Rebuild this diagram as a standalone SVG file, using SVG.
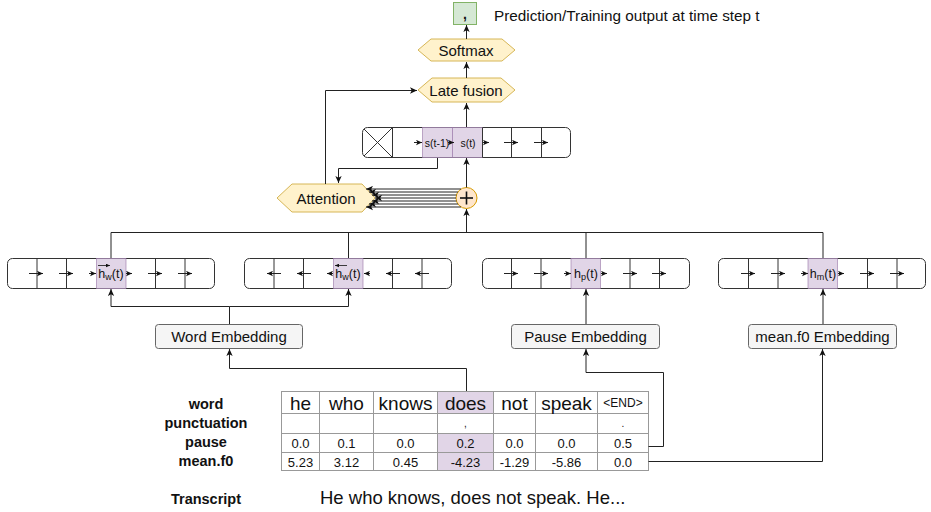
<svg xmlns="http://www.w3.org/2000/svg" width="931" height="512" viewBox="0 0 931 512">
  <defs>
    <marker id="ah" viewBox="0 0 10 10" refX="10" refY="5" markerWidth="7" markerHeight="7" markerUnits="userSpaceOnUse" orient="auto">
      <path d="M0,0.5 L10,5 L0,9.5 L2.5,5 z" fill="#111"/>
    </marker>
    <marker id="sh" viewBox="0 0 10 10" refX="10" refY="5" markerWidth="6" markerHeight="6" markerUnits="userSpaceOnUse" orient="auto">
      <path d="M0,0.5 L10,5 L0,9.5 L2.5,5 z" fill="#111"/>
    </marker>
    <marker id="vh" viewBox="0 0 10 10" refX="10" refY="5" markerWidth="4" markerHeight="4" markerUnits="userSpaceOnUse" orient="auto">
      <path d="M0,0.5 L10,5 L0,9.5 z" fill="#111"/>
    </marker>
  </defs>
  <style>
    text { font-family: "Liberation Sans", Arial, Helvetica, sans-serif; fill: #111; }
    .hex { fill: #fff2cc; stroke: #d6b656; stroke-width: 1; }
    .rnn { fill: #fff; stroke: #333; stroke-width: 1; }
    .sep { stroke: #333; stroke-width: 1; }
    .hl { fill: #e1d5e7; stroke: #9673a6; stroke-width: 0.6; }
    .emb { fill: #f5f5f5; stroke: #666; stroke-width: 1; }
    .conn { fill: none; stroke: #222; stroke-width: 1; }
    .arr { marker-end: url(#ah); }
    .cell-arr { fill: none; stroke: #222; stroke-width: 1; marker-end: url(#sh); }
    .lbl { font-size: 15px; text-anchor: middle; }
    .cl { font-size: 12.5px; text-anchor: middle; }
    .tb { fill: #fff; stroke: #999; stroke-width: 1; }
    .thl { fill: #e1d5e7; stroke: #999; stroke-width: 1; }
    .tw { font-size: 19px; text-anchor: middle; }
    .tn { font-size: 13px; text-anchor: middle; }
    .rl { font-size: 14.5px; font-weight: bold; text-anchor: middle; }
  </style>

  <!-- output token -->
  <g id="output">
    <rect x="453.5" y="2.5" width="23" height="22" fill="#d5e8d4" stroke="#82b366"/>
    <text x="465" y="19" font-size="14" text-anchor="middle" font-weight="bold">,</text>
    <text x="494" y="21" font-size="15.3">Prediction/Training output at time step t</text>
  </g>

  <g id="softmax">
    <polygon class="hex" points="418,50 431,39 502,39 515,50 502,61 431,61"/>
    <text class="lbl" x="466" y="55.5" font-size="15.5">Softmax</text>
  </g>

  <g id="late-fusion">
    <polygon class="hex" points="418,90 432,78 501,78 515,90 501,102 432,102"/>
    <text class="lbl" x="466" y="95.5" font-size="16">Late fusion</text>
  </g>

  <!-- decoder RNN -->
  <g id="decoder">
    <rect class="rnn" x="362.5" y="127.5" width="208" height="30" rx="5"/>
    <rect class="hl" x="422.5" y="127.5" width="30" height="30"/>
    <rect class="hl" x="452.5" y="127.5" width="30" height="30"/>
    <line class="sep" x1="392.5" y1="127.5" x2="392.5" y2="157.5"/>
    <line class="sep" x1="482.5" y1="127.5" x2="482.5" y2="157.5"/>
    <line class="sep" x1="511.5" y1="127.5" x2="511.5" y2="157.5"/>
    <line class="sep" x1="541.5" y1="127.5" x2="541.5" y2="157.5"/>
    <line class="sep" x1="364" y1="129" x2="392.5" y2="157.5"/>
    <line class="sep" x1="392.5" y1="127.5" x2="364" y2="156"/>
    <text x="437" y="146.5" font-size="10.5" text-anchor="middle">s(t-1)</text>
    <text x="468" y="146.5" font-size="10.5" text-anchor="middle">s(t)</text>
    <line class="cell-arr" x1="414" y1="142.5" x2="422" y2="142.5"/>
    <line class="cell-arr" x1="448" y1="142.5" x2="454" y2="142.5"/>
    <line class="cell-arr" x1="483" y1="142.5" x2="489" y2="142.5"/>
    <line class="cell-arr" x1="504" y1="142.5" x2="518" y2="142.5"/>
    <line class="cell-arr" x1="534" y1="142.5" x2="548" y2="142.5"/>
  </g>

  <g id="attention">
    <polygon class="hex" points="277,198 292,184 362,184 375,198 362,212 292,212"/>
    <text class="lbl" x="326" y="204" font-size="17">Attention</text>
  </g>

  <g id="concat">
    <circle cx="466.5" cy="198" r="10.5" fill="#ffe6cc" stroke="#d79b00"/>
    <line x1="460" y1="198" x2="473" y2="198" stroke="#111" stroke-width="1.6"/>
    <line x1="466.5" y1="191.5" x2="466.5" y2="204.5" stroke="#111" stroke-width="1.6"/>
  </g>

  <!-- encoder for words, forward direction -->
  <g id="enc-word-fwd">
    <rect class="rnn" x="7.5" y="258.5" width="207" height="30" rx="5"/>
    <rect class="hl" x="96.5" y="258.5" width="29.5" height="30"/>
    <line class="sep" x1="37" y1="258.5" x2="37" y2="288.5"/>
    <line class="sep" x1="66.5" y1="258.5" x2="66.5" y2="288.5"/>
    <line class="sep" x1="155.5" y1="258.5" x2="155.5" y2="288.5"/>
    <line class="sep" x1="185" y1="258.5" x2="185" y2="288.5"/>
    <line class="cell-arr" x1="29" y1="273.5" x2="43" y2="273.5"/>
    <line class="cell-arr" x1="59" y1="273.5" x2="73" y2="273.5"/>
    <line class="cell-arr" x1="89" y1="273.5" x2="96" y2="273.5"/>
    <line class="cell-arr" x1="126" y1="273.5" x2="132" y2="273.5"/>
    <line class="cell-arr" x1="148" y1="273.5" x2="162" y2="273.5"/>
    <line class="cell-arr" x1="178" y1="273.5" x2="192" y2="273.5"/>
    <line x1="98" y1="265.5" x2="110" y2="265.5" stroke="#111" stroke-width="0.8" marker-end="url(#vh)"/>
    <text class="cl" x="111" y="278">h<tspan font-size="9" dy="2">w</tspan><tspan dy="-2">(t)</tspan></text>
  </g>

  <!-- encoder for words, backward direction -->
  <g id="enc-word-bwd">
    <rect class="rnn" x="244.5" y="258.5" width="207" height="30" rx="5"/>
    <rect class="hl" x="333.5" y="258.5" width="29.5" height="30"/>
    <line class="sep" x1="274" y1="258.5" x2="274" y2="288.5"/>
    <line class="sep" x1="303.5" y1="258.5" x2="303.5" y2="288.5"/>
    <line class="sep" x1="392.5" y1="258.5" x2="392.5" y2="288.5"/>
    <line class="sep" x1="422" y1="258.5" x2="422" y2="288.5"/>
    <line class="cell-arr" x1="281" y1="273.5" x2="267" y2="273.5"/>
    <line class="cell-arr" x1="311" y1="273.5" x2="297" y2="273.5"/>
    <line class="cell-arr" x1="333" y1="273.5" x2="327" y2="273.5"/>
    <line class="cell-arr" x1="370" y1="273.5" x2="364" y2="273.5"/>
    <line class="cell-arr" x1="400" y1="273.5" x2="386" y2="273.5"/>
    <line class="cell-arr" x1="429" y1="273.5" x2="415" y2="273.5"/>
    <line x1="347" y1="265.5" x2="335" y2="265.5" stroke="#111" stroke-width="0.8" marker-end="url(#vh)"/>
    <text class="cl" x="348" y="278">h<tspan font-size="9" dy="2">w</tspan><tspan dy="-2">(t)</tspan></text>
  </g>

  <!-- encoder for pauses -->
  <g id="enc-pause">
    <rect class="rnn" x="482.5" y="258.5" width="207" height="30" rx="5"/>
    <rect class="hl" x="571" y="258.5" width="29.5" height="30"/>
    <line class="sep" x1="511.5" y1="258.5" x2="511.5" y2="288.5"/>
    <line class="sep" x1="541" y1="258.5" x2="541" y2="288.5"/>
    <line class="sep" x1="630" y1="258.5" x2="630" y2="288.5"/>
    <line class="sep" x1="659.5" y1="258.5" x2="659.5" y2="288.5"/>
    <line class="cell-arr" x1="504" y1="273.5" x2="518" y2="273.5"/>
    <line class="cell-arr" x1="534" y1="273.5" x2="548" y2="273.5"/>
    <line class="cell-arr" x1="564" y1="273.5" x2="571" y2="273.5"/>
    <line class="cell-arr" x1="601" y1="273.5" x2="607" y2="273.5"/>
    <line class="cell-arr" x1="623" y1="273.5" x2="637" y2="273.5"/>
    <line class="cell-arr" x1="652" y1="273.5" x2="666" y2="273.5"/>
    <text class="cl" x="586" y="277.5">h<tspan font-size="9" dy="2">p</tspan><tspan dy="-2">(t)</tspan></text>
  </g>

  <!-- encoder for mean f0 -->
  <g id="enc-f0">
    <rect class="rnn" x="718.5" y="258.5" width="207" height="30" rx="5"/>
    <rect class="hl" x="808" y="258.5" width="29.5" height="30"/>
    <line class="sep" x1="748.5" y1="258.5" x2="748.5" y2="288.5"/>
    <line class="sep" x1="778" y1="258.5" x2="778" y2="288.5"/>
    <line class="sep" x1="867.5" y1="258.5" x2="867.5" y2="288.5"/>
    <line class="sep" x1="897" y1="258.5" x2="897" y2="288.5"/>
    <line class="cell-arr" x1="741" y1="273.5" x2="755" y2="273.5"/>
    <line class="cell-arr" x1="771" y1="273.5" x2="785" y2="273.5"/>
    <line class="cell-arr" x1="801" y1="273.5" x2="808" y2="273.5"/>
    <line class="cell-arr" x1="838" y1="273.5" x2="844" y2="273.5"/>
    <line class="cell-arr" x1="860" y1="273.5" x2="874" y2="273.5"/>
    <line class="cell-arr" x1="890" y1="273.5" x2="904" y2="273.5"/>
    <text class="cl" x="823" y="277.5">h<tspan font-size="9" dy="2">m</tspan><tspan dy="-2">(t)</tspan></text>
  </g>

  <g id="emb-word">
    <rect class="emb" x="155.5" y="324.5" width="147" height="24" rx="3"/>
    <text class="lbl" x="229" y="342">Word Embedding</text>
  </g>
  <g id="emb-pause">
    <rect class="emb" x="511.5" y="324.5" width="148" height="24" rx="3"/>
    <text class="lbl" x="585.5" y="342">Pause Embedding</text>
  </g>
  <g id="emb-f0">
    <rect class="emb" x="748.5" y="324.5" width="148" height="24" rx="3"/>
    <text class="lbl" x="822.5" y="342">mean.f0 Embedding</text>
  </g>

  <!-- input feature table -->
  <g id="table">
    <text class="rl" x="206" y="409">word</text>
    <text class="rl" x="206" y="428">punctuation</text>
    <text class="rl" x="206" y="447">pause</text>
    <text class="rl" x="206" y="466">mean.f0</text>

    <rect class="tb" x="281.5" y="391.5" width="367" height="79"/>
    <rect class="thl" x="437.5" y="391.5" width="56" height="22"/>
    <rect class="thl" x="437.5" y="433.5" width="56" height="37"/>
    <line class="tb" x1="281.5" y1="413.5" x2="648.5" y2="413.5"/>
    <line class="tb" x1="281.5" y1="433.5" x2="648.5" y2="433.5"/>
    <line class="tb" x1="281.5" y1="452.5" x2="648.5" y2="452.5"/>
    <line class="tb" x1="319.5" y1="391.5" x2="319.5" y2="470.5"/>
    <line class="tb" x1="373.5" y1="391.5" x2="373.5" y2="470.5"/>
    <line class="tb" x1="437.5" y1="391.5" x2="437.5" y2="470.5"/>
    <line class="tb" x1="493.5" y1="391.5" x2="493.5" y2="470.5"/>
    <line class="tb" x1="535.5" y1="391.5" x2="535.5" y2="470.5"/>
    <line class="tb" x1="597.5" y1="391.5" x2="597.5" y2="470.5"/>

    <text class="tw" x="300.5" y="409.5">he</text>
    <text class="tw" x="346.5" y="409.5">who</text>
    <text class="tw" x="405.5" y="409.5">knows</text>
    <text class="tw" x="465.5" y="409.5">does</text>
    <text class="tw" x="514.5" y="409.5">not</text>
    <text class="tw" x="566.5" y="409.5">speak</text>
    <text x="623" y="407" font-size="12" text-anchor="middle">&lt;END&gt;</text>

    <text x="465.5" y="427" font-size="10" text-anchor="middle">,</text>
    <text x="623" y="427" font-size="10" text-anchor="middle">.</text>

    <text class="tn" x="300.5" y="447.5">0.0</text>
    <text class="tn" x="346.5" y="447.5">0.1</text>
    <text class="tn" x="405.5" y="447.5">0.0</text>
    <text class="tn" x="465.5" y="447.5">0.2</text>
    <text class="tn" x="514.5" y="447.5">0.0</text>
    <text class="tn" x="566.5" y="447.5">0.0</text>
    <text class="tn" x="623" y="447.5">0.5</text>

    <text class="tn" x="300.5" y="466.5">5.23</text>
    <text class="tn" x="346.5" y="466.5">3.12</text>
    <text class="tn" x="405.5" y="466.5">0.45</text>
    <text class="tn" x="465.5" y="466.5">-4.23</text>
    <text class="tn" x="514.5" y="466.5">-1.29</text>
    <text class="tn" x="566.5" y="466.5">-5.86</text>
    <text class="tn" x="623" y="466.5">0.0</text>
  </g>

  <g id="transcript">
    <text class="rl" x="206" y="504">Transcript</text>
    <text x="320" y="504" font-size="18.5">He who knows, does not speak. He...</text>
  </g>

  <!-- connectors -->
  <g id="connectors">
    <line class="conn arr" x1="466.5" y1="39" x2="466.5" y2="25"/>
    <line class="conn arr" x1="466.5" y1="78" x2="466.5" y2="62"/>
    <line class="conn arr" x1="466.5" y1="127" x2="466.5" y2="103"/>
    <polyline class="conn arr" points="325.5,184 325.5,90.5 417,90.5"/>
    <polyline class="conn arr" points="437.5,158 437.5,168.5 338.5,168.5 338.5,183"/>
    <line class="conn arr" x1="466.5" y1="187.5" x2="466.5" y2="158"/>
    <!-- context vectors into attention -->
    <line class="conn arr" x1="461" y1="189" x2="366" y2="189"/>
    <line class="conn arr" x1="458" y1="192" x2="369" y2="192"/>
    <line class="conn arr" x1="456.5" y1="195" x2="372" y2="195"/>
    <line class="conn arr" x1="456" y1="198" x2="375" y2="198"/>
    <line class="conn arr" x1="456.5" y1="201" x2="372" y2="201"/>
    <line class="conn arr" x1="458" y1="204" x2="369" y2="204"/>
    <line class="conn arr" x1="461" y1="207" x2="366" y2="207"/>
    <!-- encoder states bus -->
    <polyline class="conn" points="111,258 111,232.5 823,232.5 823,258"/>
    <line class="conn" x1="348.5" y1="232.5" x2="348.5" y2="258"/>
    <line class="conn" x1="586" y1="232.5" x2="586" y2="258"/>
    <line class="conn arr" x1="466.5" y1="232.5" x2="466.5" y2="209"/>
    <!-- embeddings into encoders -->
    <line class="conn" x1="229.5" y1="324" x2="229.5" y2="306.5"/>
    <polyline class="conn arr" points="229.5,306.5 111,306.5 111,289"/>
    <polyline class="conn arr" points="229.5,306.5 348.5,306.5 348.5,289"/>
    <line class="conn arr" x1="586" y1="324" x2="586" y2="289"/>
    <line class="conn arr" x1="823" y1="324" x2="823" y2="289"/>
    <!-- table into embeddings -->
    <polyline class="conn arr" points="466.5,391 466.5,368.5 229.5,368.5 229.5,349"/>
    <polyline class="conn arr" points="648.5,446.5 663.5,446.5 663.5,372.5 586,372.5 586,349"/>
    <polyline class="conn arr" points="648.5,461.5 822.5,461.5 822.5,349"/>
  </g>
</svg>
